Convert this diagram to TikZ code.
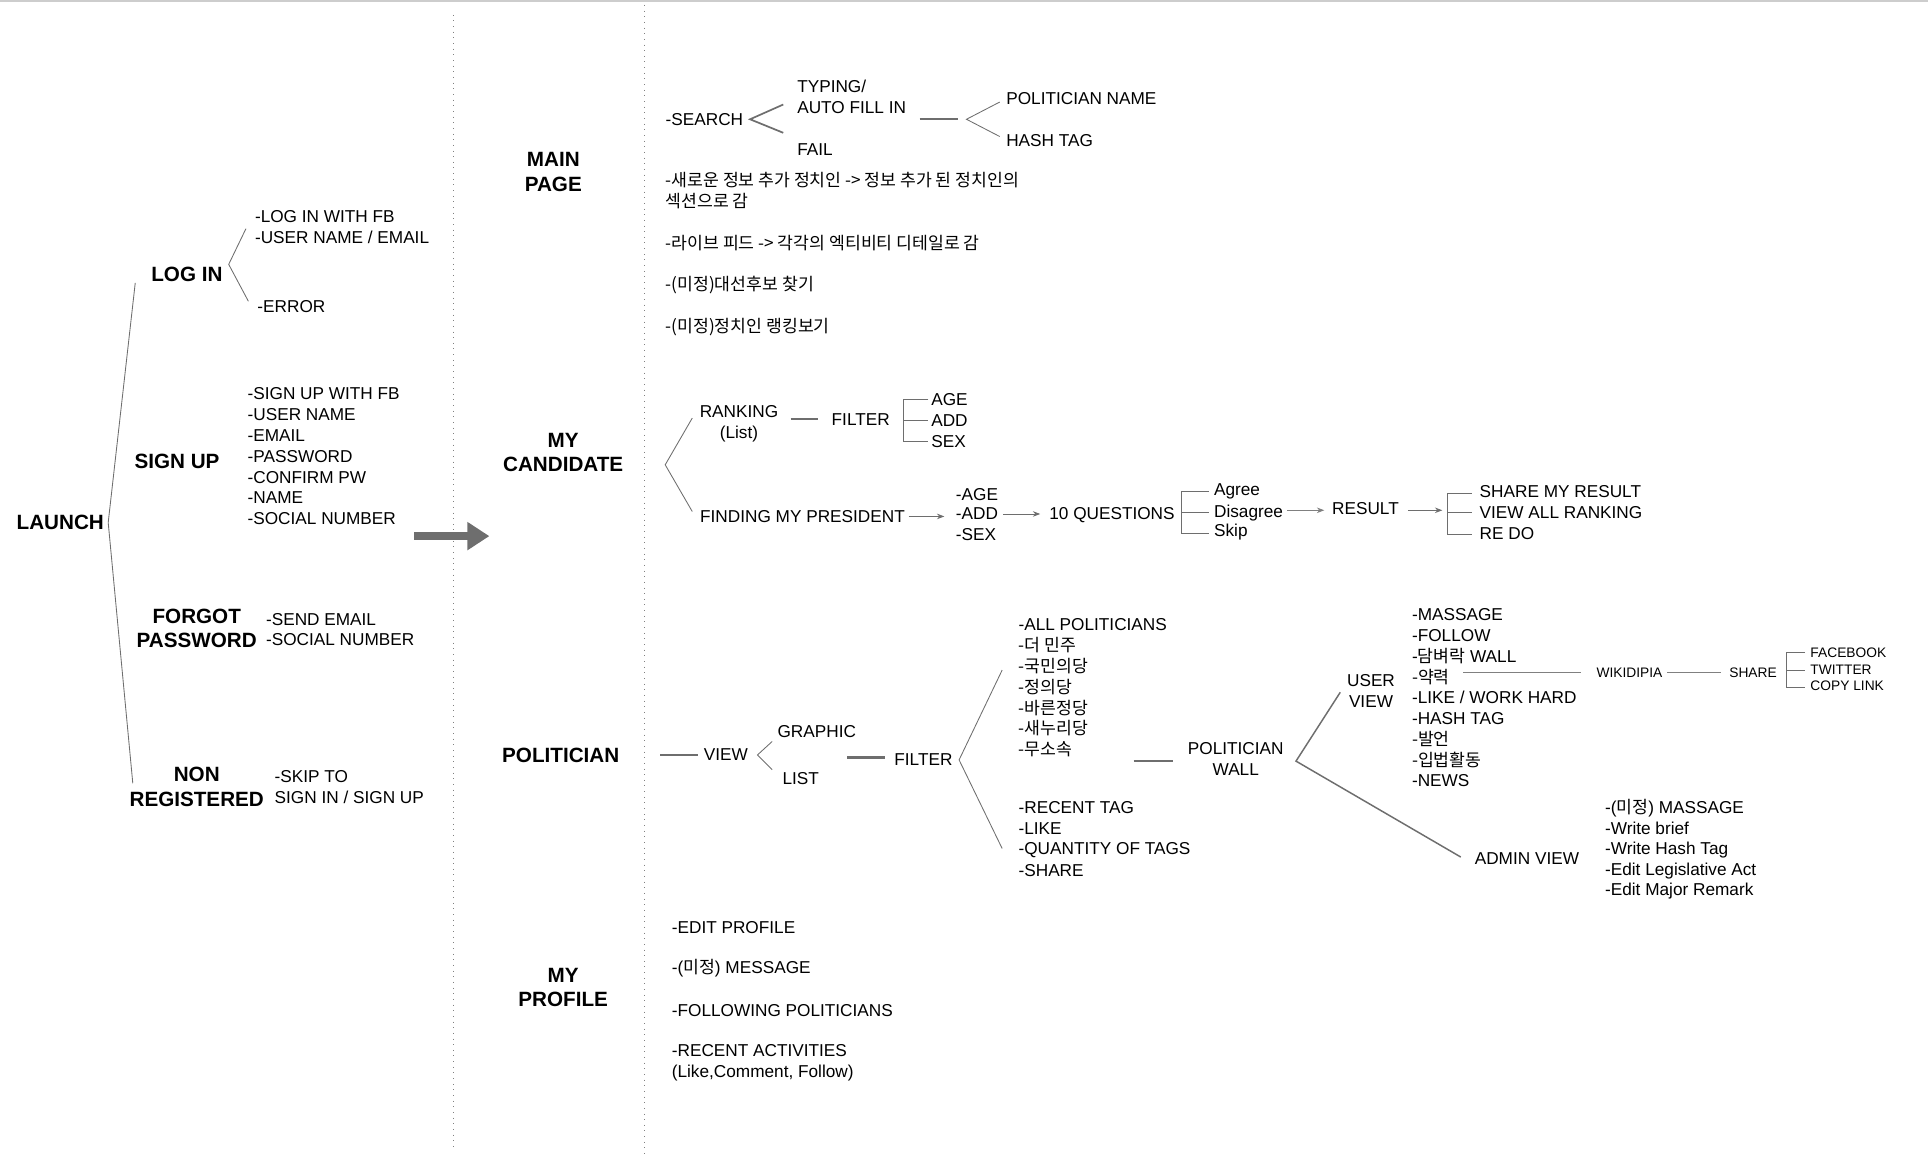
\documentclass[tikz,border=0pt]{standalone}
\usepackage{fontspec}
\setmainfont{Liberation Sans}
\newfontfamily\kr{Noto Sans CJK KR}
\usetikzlibrary{arrows.meta, positioning}
\definecolor{linegray}{RGB}{110,110,110}
\definecolor{rulegray}{RGB}{205,205,205}
\tikzset{
  item/.style={anchor=west, inner sep=0pt, font=\fontsize{7}{8.5}\selectfont, align=left},
  small/.style={item, font=\fontsize{5.6}{7}\selectfont},
  head/.style={inner sep=0pt, font=\bfseries\fontsize{8.4}{10}\selectfont, align=center},
  mid/.style={inner sep=0pt, font=\fontsize{7}{8.5}\selectfont, align=center},
  branch/.style={draw=linegray, line width=0.35pt},
  bar/.style={draw=linegray, line width=0.9pt},
  flow/.style={draw=linegray, line width=0.35pt, -{Stealth[length=3pt]}},
}
\begin{document}
\begin{tikzpicture}[x=0.5pt, y=-0.5pt]
\useasboundingbox (0,0) rectangle (1568,943);
\draw[rulegray, line width=1pt] (0,1) -- (1568,1);
\draw[gray, dotted, line width=0.3pt] (369,12) -- (369,935);
\draw[gray, dotted, line width=0.3pt] (524,4) -- (524,940);
\draw[draw=linegray, line width=3pt, -{Triangle[length=9pt,width=11pt]}] (337,436) -- (398,436);

% launch
\node[head] (launch) at (49,425) {LAUNCH};
\coordinate (lj) at (88,425);
\draw[branch] (110,230) -- (lj) -- (108,637);

\node[head] (login) at (152,223) {LOG IN};
\draw[branch] (200,186) -- (186,215) -- (202,245);
\node[item] (l1) at (207,176) {-LOG IN WITH FB};
\node[item] (l2) at (207,193) {-USER NAME / EMAIL};
\node[item] (l3) at (209,249) {-ERROR};

\node[head] (signup) at (144,375) {SIGN UP};
\foreach \t [count=\i] in {-SIGN UP WITH FB,-USER NAME,-EMAIL,-PASSWORD,-CONFIRM PW,-NAME,-SOCIAL NUMBER}
  \node[item] (s\i) at (201,303+17*\i) {\t};

\node[head] (forgot) at (160,511) {FORGOT\\PASSWORD};
\node[item] (f1) at (216,504) {-SEND EMAIL};
\node[item] (f2) at (216,520) {-SOCIAL NUMBER};

\node[head] (nonreg) at (160,640) {NON\\REGISTERED};
\node[item] (n1) at (223,640) {-SKIP TO\\SIGN IN / SIGN UP};

% headers
\node[head] (mainpage) at (450,140) {MAIN\\PAGE};
\node[head] (mycand) at (458,368) {MY\\CANDIDATE};
\node[head] (polit) at (456,614) {POLITICIAN};
\node[head] (myprof) at (458,803) {MY\\PROFILE};

% main page
\node[item] (search) at (541,97) {-SEARCH};
\draw[branch, line width=0.7pt] (637,85) -- (610,97) -- (637,108);
\node[item] (typing) at (648,79) {TYPING/\\AUTO FILL IN};
\node[item] (fail) at (648,122) {FAIL};
\draw[bar] (748,97) -- (779,97);
\draw[branch] (813,83) -- (786,97) -- (813,111);
\node[item] (pname) at (818,80) {POLITICIAN NAME};
\node[item] (htag) at (818,114) {HASH TAG};
\node[item] (k1) at (541,155) {\kr -새로운 정보 추가 정치인 -> 정보 추가 된 정치인의\\\kr 섹션으로 감};
\node[item] (k2) at (541,198) {\kr -라이브 피드 -> 각각의 엑티비티 디테일로 감};
\node[item] (k3) at (541,232) {\kr -(미정)대선후보 찾기};
\node[item] (k4) at (541,266) {\kr -(미정)정치인 랭킹보기};

% my candidate
\draw[branch] (563,340) -- (541,378) -- (563,416);
\node[mid] (rank) at (601,345) {RANKING\\(List)};
\draw[bar] (643,341) -- (665,341);
\node[mid] (filt1) at (700,341) {FILTER};
\draw[branch] (755,325) -| (735,359) -- (755,359) (735,342) -- (755,342);
\node[item] (a1) at (757,325) {AGE};
\node[item] (a2) at (757,342) {ADD};
\node[item] (a3) at (757,359) {SEX};
\node[item] (find) at (569,420) {FINDING MY PRESIDENT};
\node[item] (b1) at (777,402) {-AGE};
\node[item] (b2) at (777,418) {-ADD};
\node[item] (b3) at (777,435) {-SEX};
\draw[flow] (739,420) -- (768,420);
\node[item] (tenq) at (853,419) {10 QUESTIONS};
\draw[flow] (816,418) -- (846,418);
\draw[branch] (983,400) -| (961,434) -- (983,434) (961,417) -- (983,417);
\node[item] (agree) at (987,400) {Agree};
\node[item] (disag) at (987,417) {Disagree};
\node[item] (skip) at (987,433) {Skip};
\node[item] (result) at (1083,414) {RESULT};
\draw[flow, draw=gray] (1047,415) -- (1077,415);
\draw[flow] (1145,415) -- (1173,415);
\draw[branch] (1197,401) -| (1177,435) -- (1197,435) (1177,417) -- (1197,417);
\node[item] (r1) at (1203,400) {SHARE MY RESULT};
\node[item] (r2) at (1203,417) {VIEW ALL RANKING};
\node[item] (r3) at (1203,434) {RE DO};

% politician
\draw[bar] (537,614) -- (568,614);
\node[item] (view) at (572,614) {VIEW};
\draw[branch] (628,603) -- (616,614) -- (628,626);
\node[item] (graphic) at (632,595) {GRAPHIC};
\node[item] (list) at (636,633) {LIST};
\draw[bar] (689,616) -- (720,616);
\node[item] (filt2) at (727,618) {FILTER};
\draw[branch] (815,545) -- (780,618) -- (815,690);
\foreach \t [count=\i] in {-ALL POLITICIANS,\kr -더 민주,\kr -국민의당,\kr -정의당,\kr -바른정당,\kr -새누리당,\kr -무소속}
  \node[item] (p\i) at (828,491+16.9*\i) {\t};
\foreach \t [count=\i] in {-RECENT TAG,-LIKE,-QUANTITY OF TAGS,-SHARE}
  \node[item] (q\i) at (828,640+17*\i) {\t};
\draw[bar] (922,619) -- (954,619);
\node[mid] (pwall) at (1005,617) {POLITICIAN\\WALL};
\coordinate (wj) at (1054,619);
\draw[branch, line width=0.6pt] (1090,563) -- (wj) -- (1188,697);
\node[mid] (uview) at (1115,562) {USER\\VIEW};
\foreach \t [count=\i] in {-MASSAGE,-FOLLOW,-{\kr 담벼락} WALL,\kr -약력,-LIKE / WORK HARD,-HASH TAG,\kr -발언,\kr -입법활동,-NEWS}
  \node[item] (u\i) at (1148,483+16.9*\i) {\t};
\node[small] (wiki) at (1298,547) {WIKIDIPIA};
\node[small] (share) at (1406,547) {SHARE};
\draw[branch, draw=gray] (1190,547) -- (1286,547);
\draw[branch, draw=gray] (1356,547) -- (1400,547);
\draw[branch] (1468,531) -| (1453,559) -- (1468,559) (1453,545) -- (1468,545);
\node[small] (fb) at (1472,531) {FACEBOOK};
\node[small] (tw) at (1472,545) {TWITTER};
\node[small] (cl) at (1472,558) {COPY LINK};
\node[item] (aview) at (1199,698) {ADMIN VIEW};
\foreach \t [count=\i] in {-({\kr 미정}) MASSAGE,-Write brief,-Write Hash Tag,-Edit Legislative Act,-Edit Major Remark}
  \node[item] (v\i) at (1305,640+17*\i) {\t};

% my profile
\node[item] (m1) at (546,754) {-EDIT PROFILE};
\node[item] (m2) at (546,787) {-({\kr 미정}) MESSAGE};
\node[item] (m3) at (546,822) {-FOLLOWING POLITICIANS};
\node[item] (m4) at (546,864) {-RECENT ACTIVITIES\\(Like,Comment, Follow)};
\end{tikzpicture}
\end{document}
